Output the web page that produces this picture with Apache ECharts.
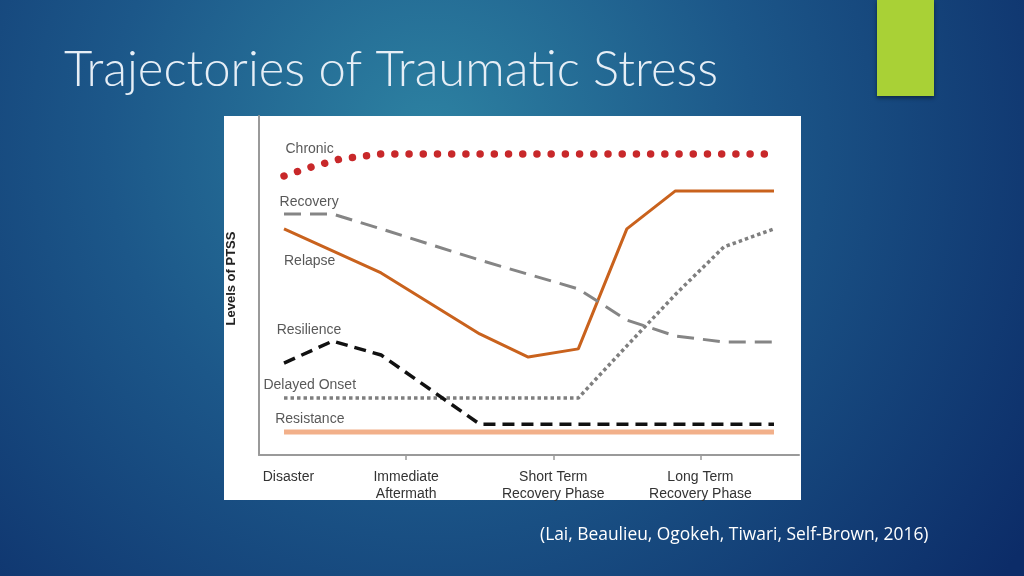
<!DOCTYPE html>
<html>
<head>
<meta charset="utf-8">
<title>Trajectories of Traumatic Stress</title>
<script src="https://cdn.jsdelivr.net/npm/echarts@6/dist/echarts.min.js"></script>
<style>
  html, body { margin: 0; padding: 0; }
  #main { width: 1024px; height: 576px; }
</style>
</head>
<body>
<div id="main"></div>
<script>
// time axis: 0 = origin, 1 = immediate aftermath, 2 = short term, 3 = long term
var phaseTicks = [0.2, 1, 2, 3];
var phaseNames = ["Disaster", "Immediate\nAftermath", "Short Term\nRecovery Phase", "Long Term\nRecovery Phase"];

// levels of PTSS (0-100)
var chronic = [[0.17, 82.3], [0.35, 84.9], [0.55, 87.3], [0.83, 88.8], [3.45, 88.8]];
var recovery = [[0.17, 71.1], [0.5, 71.1], [0.83, 66.7], [1.5, 57.5], [2.17, 49], [2.5, 39.8], [2.83, 35.1], [3.17, 33.3], [3.5, 33.3]];
var relapse = [[0.17, 66.7], [0.83, 53.7], [1.5, 35.7], [1.83, 28.9], [2.17, 31.3], [2.5, 66.7], [2.83, 77.9], [3.5, 77.9]];
var resilience = [[0.17, 27.1], [0.5, 33.6], [0.83, 29.5], [1.5, 9.1], [3.5, 9.1]];
var delayedOnset = [[0.17, 16.8], [2.17, 16.8], [2.5, 32.2], [2.84, 47.8], [3.16, 61.4], [3.5, 66.7]];
var resistance = [[0.17, 6.8], [3.5, 6.8]];

// where each trajectory's name sits
var labelNames = ["Chronic", "Recovery", "Relapse", "Resilience", "Delayed Onset", "Resistance"];
var labelPos = [[0.18, 90.2], [0.14, 74.6], [0.17, 57.2], [0.12, 36.9], [0.03, 20.6], [0.11, 10.6]];

var myChart = echarts.init(document.getElementById("main"));

function lineSeries(name, data, style) {
  return {
    name: name,
    type: "line",
    data: data,
    symbol: "none",
    silent: true,
    lineStyle: style,
    z: 3
  };
}

myChart.setOption({
  backgroundColor: {
    type: "radial",
    x: 430, y: 140, r: 720, global: true,
    colorStops: [
      { offset: 0, color: "#2d82a2" },
      { offset: 0.45, color: "#1c5789" },
      { offset: 1, color: "#0c2c68" }
    ]
  },
  animation: false,
  title: {
    text: "Trajectories of Traumatic Stress",
    left: 59,
    top: 41,
    textStyle: {
      fontFamily: "Lato",
      fontWeight: 300,
      fontSize: 49,
      color: "#e6eef6"
    }
  },
  graphic: [
    {
      type: "rect",
      shape: { x: 224, y: 116, width: 577, height: 384 },
      style: { fill: "#ffffff" },
      z: -10
    },
    {
      type: "rect",
      shape: { x: 877, y: 0, width: 57, height: 96 },
      style: { fill: "#a9d136", shadowBlur: 4, shadowOffsetY: 2, shadowColor: "rgba(0,0,0,0.45)" },
      z: -10
    },
    {
      type: "text",
      left: 540,
      top: 527,
      style: {
        text: "(Lai, Beaulieu, Ogokeh, Tiwari, Self-Brown, 2016)",
        fill: "#ffffff",
        font: "17.4px 'Open Sans'"
      }
    }
  ],
  grid: { left: 259, right: 225, top: 116, bottom: 121 },
  xAxis: {
    type: "value",
    min: 0,
    max: 3.67,
    axisLine: { lineStyle: { color: "#9a9a9a", width: 2 } },
    axisTick: { customValues: [1, 2, 3], length: 5, lineStyle: { color: "#9a9a9a", width: 1.5 } },
    splitLine: { show: false },
    axisLabel: {
      customValues: phaseTicks,
      margin: 14,
      color: "#333333",
      fontFamily: "Liberation Sans",
      fontSize: 14,
      lineHeight: 17,
      formatter: function (v) {
        var i = phaseTicks.indexOf(v);
        return i >= 0 ? phaseNames[i] : "";
      }
    }
  },
  yAxis: {
    type: "value",
    min: 0,
    max: 100,
    name: "Levels of PTSS",
    nameLocation: "middle",
    nameGap: 21,
    nameTextStyle: {
      fontFamily: "Liberation Sans",
      fontWeight: "bold",
      fontSize: 13,
      color: "#222222",
      padding: [0, 0, 0, 14]
    },
    axisLine: { show: true, lineStyle: { color: "#9a9a9a", width: 2 } },
    axisTick: { show: false },
    axisLabel: { show: false },
    splitLine: { show: false }
  },
  series: [
    lineSeries("Resistance", resistance, { color: "#f2b08a", width: 5 }),
    lineSeries("Delayed Onset", delayedOnset, { color: "#7f7f7f", width: 3.5, type: [3.5, 3] }),
    lineSeries("Resilience", resilience, { color: "#111111", width: 3.5, type: [12, 7] }),
    lineSeries("Relapse", relapse, { color: "#c9621d", width: 3 }),
    lineSeries("Recovery", recovery, { color: "#858585", width: 3, type: [17, 9] }),
    lineSeries("Chronic", chronic, { color: "#c8282a", width: 7.5, type: [0.01, 14.2], cap: "round" }),
    {
      name: "labels",
      type: "scatter",
      symbolSize: 0,
      silent: true,
      data: labelPos.map(function (p, i) { return { value: p, name: labelNames[i] }; }),
      label: {
        show: true,
        position: "right",
        distance: 0,
        formatter: "{b}",
        color: "#2e2e2e",
        fontFamily: "Liberation Sans",
        fontSize: 14
      }
    }
  ]
});
</script>
</body>
</html>
